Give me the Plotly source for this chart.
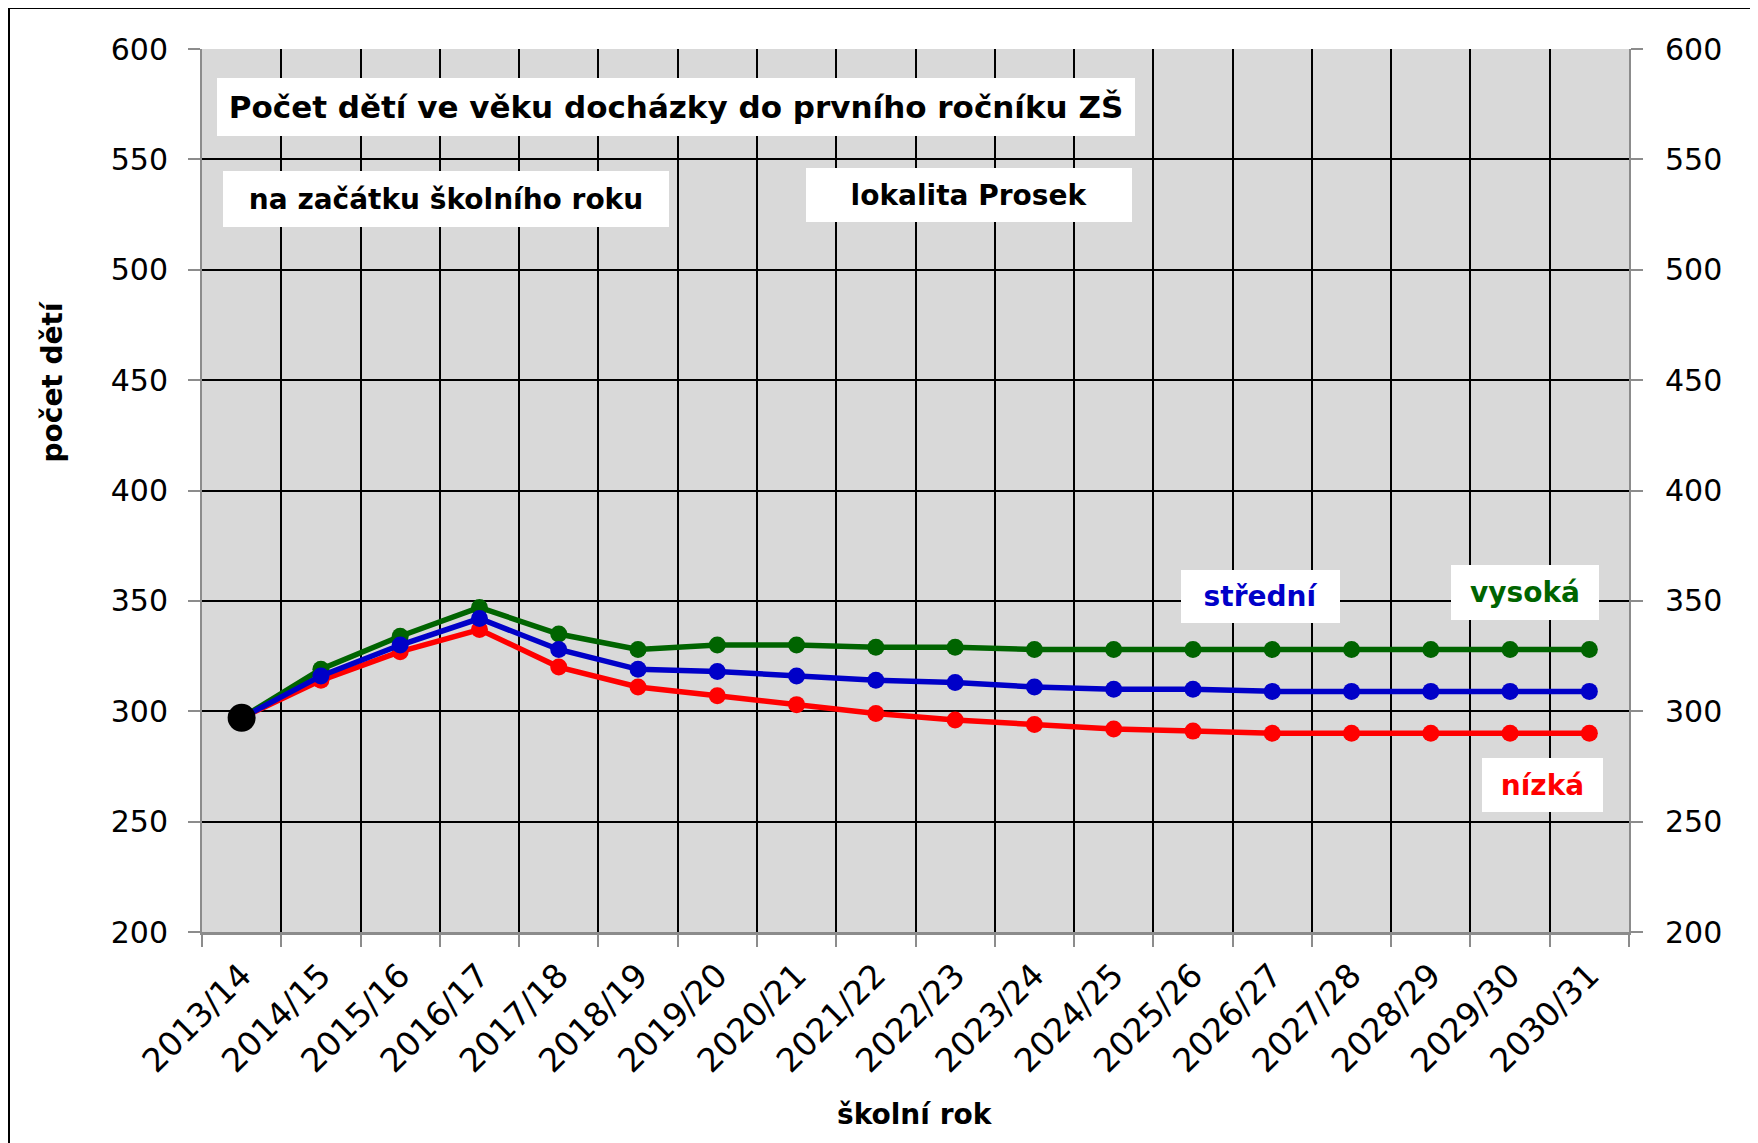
import plotly.graph_objects as go

# ---- data ----
school_years = ["2013/14", "2014/15", "2015/16", "2016/17", "2017/18", "2018/19",
                "2019/20", "2020/21", "2021/22", "2022/23", "2023/24", "2024/25",
                "2025/26", "2026/27", "2027/28", "2028/29", "2029/30", "2030/31"]
nizka = [297, 314, 327, 337, 320, 311, 307, 303, 299, 296, 294, 292, 291, 290, 290, 290, 290, 290]
vysoka = [297, 319, 334, 347, 335, 328, 330, 330, 329, 329, 328, 328, 328, 328, 328, 328, 328, 328]
stredni = [297, 316, 330, 342, 328, 319, 318, 316, 314, 313, 311, 310, 310, 309, 309, 309, 309, 309]
actual_years = ["2013/14"]
actual = [297]

y_ticks = [200, 250, 300, 350, 400, 450, 500, 550, 600]

FONT = "DejaVu Sans"
GREEN = "#006400"
BLUE = "#0000c8"
RED = "#ff0000"

fig = go.Figure()
for name, vals, col in [("nízká", nizka, RED), ("vysoká", vysoka, GREEN), ("střední", stredni, BLUE)]:
    fig.add_trace(go.Scatter(x=school_years, y=vals, mode="lines+markers", name=name,
                             line=dict(color=col, width=5.5),
                             marker=dict(color=col, size=17), showlegend=False))
fig.add_trace(go.Scatter(x=actual_years, y=actual, mode="markers", name="skutečnost",
                         marker=dict(color="black", size=28), showlegend=False))

W, H = 1758, 1143
OFF = 8  # page body margin
L, R, T, B = 202 - OFF, 129 + OFF, 49 - OFF, 211 + OFF
PW, PH = W - L - R, H - T - B


def px2paper(px, py):
    # px, py are screen coordinates
    return (px - OFF - L) / PW, (H - B - (py - OFF)) / PH


annos = []
boxes = [
    ("<b>Počet dětí ve věku docházky do prvního ročníku ZŠ</b>", 675.7, 107, 918, 58, "black", 31),
    ("<b>na začátku školního roku</b>", 446, 199, 446, 56, "black", 28),
    ("<b>lokalita Prosek</b>", 969, 195, 326, 54, "black", 28),
    ("<b>střední</b>", 1260, 596, 159, 53, BLUE, 28),
    ("<b>vysoká</b>", 1525, 592, 148, 55, GREEN, 28),
    ("<b>nízká</b>", 1542, 785, 121, 54, RED, 28),
]
for txt, cx, cy, w, h, col, fs in boxes:
    xp, yp = px2paper(cx, cy)
    annos.append(dict(text=txt, x=xp, y=yp, xref="paper", yref="paper",
                      xanchor="center", yanchor="middle", showarrow=False,
                      width=w, height=h, bgcolor="white", borderpad=0, borderwidth=0,
                      align="center", valign="middle",
                      font=dict(family=FONT, size=fs, color=col)))

xp, yp = px2paper(51.5, 382)
annos.append(dict(text="<b>počet dětí</b>", x=xp, y=yp, xref="paper", yref="paper",
                  xanchor="center", yanchor="middle", showarrow=False, textangle=-90,
                  font=dict(family=FONT, size=28, color="black")))
xp, yp = px2paper(915, 1114)
annos.append(dict(text="<b>školní rok</b>", x=xp, y=yp, xref="paper", yref="paper",
                  xanchor="center", yanchor="middle", showarrow=False,
                  font=dict(family=FONT, size=28, color="black")))

# outer frame (top and left edges visible)
fx0, fy1 = px2paper(9, 8)
shapes = [dict(type="rect", xref="paper", yref="paper", x0=fx0, x1=3, y0=-3, y1=fy1,
               line=dict(color="black", width=2), fillcolor="rgba(0,0,0,0)", layer="below")]

fig.update_layout(
    width=W, height=H,
    margin=dict(l=L, r=R, t=T, b=B, pad=0),
    paper_bgcolor="white", plot_bgcolor="#d9d9d9",
    font=dict(family=FONT, color="black"),
    annotations=annos, shapes=shapes,
    xaxis=dict(type="category", categoryorder="array", categoryarray=school_years,
               range=[-0.5, len(school_years) - 0.5], tickson="boundaries",
               showgrid=True, gridcolor="black", gridwidth=1.5,
               showline=True, linecolor="#8c8c8c", linewidth=2.5,
               ticks="outside", ticklen=12, tickcolor="#8c8c8c", tickwidth=1.5,
               tickangle=-45, tickfont=dict(family=FONT, size=33, color="black"),
               ticklabelstandoff=8, zeroline=False),
    yaxis=dict(range=[200, 600], tickvals=y_ticks, showgrid=True, gridcolor="black",
               gridwidth=1.5, showline=True, linecolor="#8c8c8c", linewidth=2,
               ticks="outside", ticklen=12, tickcolor="#8c8c8c", tickwidth=1.5,
               tickfont=dict(family=FONT, size=30, color="black"),
               ticklabelstandoff=14, zeroline=False),
    yaxis2=dict(range=[200, 600], tickvals=y_ticks, overlaying="y", side="right",
                showgrid=False, showline=True, linecolor="#8c8c8c", linewidth=2,
                ticks="outside", ticklen=12, tickcolor="#8c8c8c", tickwidth=1.5,
                tickfont=dict(family=FONT, size=30, color="black"),
                ticklabelstandoff=16, zeroline=False),
)
# invisible anchor trace so the right axis is drawn with the same scale
fig.add_trace(go.Scatter(x=actual_years, y=actual, yaxis="y2", mode="markers",
                         marker=dict(opacity=0), hoverinfo="skip", showlegend=False))

fig.write_html("out.html")
